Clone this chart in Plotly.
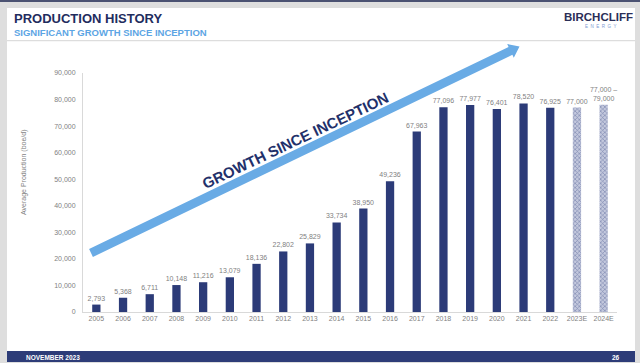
import math
import plotly.graph_objects as go

# ---------------- data ----------------
years = ["2005", "2006", "2007", "2008", "2009", "2010", "2011", "2012", "2013",
         "2014", "2015", "2016", "2017", "2018", "2019", "2020", "2021", "2022"]
production = [2793, 5368, 6711, 10148, 11216, 13079, 18136, 22802, 25829,
              33734, 38950, 49236, 67963, 77096, 77977, 76401, 78520, 76925]
est_years = ["2023E", "2024E"]
est_production = [77000, 78000]
est_labels = ["77,000", "77,000 –<br>79,000"]
y_ticks = [0, 10000, 20000, 30000, 40000, 50000, 60000, 70000, 80000, 90000]

NAVY = "#2C3B78"
DARK = "#1F2D5E"
LIGHTBLUE = "#69ABE5"
GRAY = "#7F7F7F"
FONT = "Liberation Sans, Arial, sans-serif"

W, H = 640, 363
L, R, T, B = 83, 617, 73, 312  # plot area in pixels


def px(x):
    return (x - L) / (R - L)


def py(y):
    return (B - y) / (B - T)


fig = go.Figure()
fig.add_trace(go.Bar(
    x=years, y=production,
    text=[f"{v:,}" for v in production],
    textposition="outside", cliponaxis=False, constraintext="none",
    textfont=dict(size=7, color=GRAY, family=FONT),
    marker=dict(color=NAVY, line=dict(width=0)),
    width=0.31, hoverinfo="skip",
))
fig.add_trace(go.Bar(
    x=est_years, y=est_production,
    text=est_labels,
    textposition="outside", cliponaxis=False, constraintext="none",
    textfont=dict(size=7, color=GRAY, family=FONT),
    marker=dict(color="#A7AECD", line=dict(width=0),
                pattern=dict(shape="x", fgcolor=NAVY, bgcolor="#C3C8DD",
                             size=3, solidity=0.35)),
    width=0.31, hoverinfo="skip",
))

shapes = []
# slide background (gray frame, white slide)
shapes.append(dict(type="rect", xref="paper", yref="paper", layer="below",
                   x0=px(7), x1=px(635), y0=py(351), y1=py(8),
                   fillcolor="white", line=dict(width=0)))
shapes.append(dict(type="rect", xref="paper", yref="paper", layer="below",
                   x0=px(0), x1=px(640), y0=py(2), y1=py(0),
                   fillcolor="#4B5272", line=dict(width=0)))
# header separator
shapes.append(dict(type="line", xref="paper", yref="paper", layer="below",
                   x0=px(7), x1=px(635), y0=py(40.7), y1=py(40.7),
                   line=dict(color="#D6D6D6", width=1)))
# footer bar
shapes.append(dict(type="rect", xref="paper", yref="paper", layer="below",
                   x0=px(7), x1=px(635), y0=py(362), y1=py(351),
                   fillcolor="#2D3C78", line=dict(width=0)))

# growth arrow (decorative)
tail = (91.0, 253.0)
tip = (519.5, 46.5)
dx, dy = tip[0] - tail[0], tip[1] - tail[1]
ln = math.hypot(dx, dy)
ux, uy = dx / ln, dy / ln
nx, ny = -uy, ux
s, w, h = 4.4, 7.6, 10.0
bx, by = tip[0] - h * ux, tip[1] - h * uy
pts = [
    (tail[0] + s * nx, tail[1] + s * ny),
    (bx + s * nx, by + s * ny),
    (bx + w * nx, by + w * ny),
    tip,
    (bx - w * nx, by - w * ny),
    (bx - s * nx, by - s * ny),
    (tail[0] - s * nx, tail[1] - s * ny),
]
path = "M " + " L ".join(f"{px(x):.5f},{py(y):.5f}" for x, y in pts) + " Z"
shapes.append(dict(type="path", xref="paper", yref="paper", path=path,
                   fillcolor=LIGHTBLUE, line=dict(width=0), layer="above"))


def note(text, x, y, size, color, xanchor="center", angle=0):
    return dict(text=text, x=px(x), y=py(y), xref="paper", yref="paper",
                xanchor=xanchor, yanchor="middle", showarrow=False,
                textangle=angle, font=dict(size=size, color=color, family=FONT))


annotations = [
    note("<b>PRODUCTION HISTORY</b>", 12, 18, 13, DARK, "left"),
    note("<b>SIGNIFICANT GROWTH SINCE INCEPTION</b>", 12, 32, 9.5, "#5CA5E4", "left"),
    note("<b>BIRCHCLIFF</b>", 598.5, 16.5, 11.5, "#2B2E57"),
    note("E  N  E  R  G  Y", 600, 26, 4.5, "#7D9BD2"),
    note("<b>NOVEMBER 2023</b>", 24, 357, 6.5, "white", "left"),
    note("<b>26</b>", 616, 357.5, 6.5, "white"),
    note("Average Production (boe/d)", 24, 173, 7, GRAY, angle=-90),
    note("<b>GROWTH SINCE INCEPTION</b>", 295, 140, 15, "#22306A", angle=-25.5),
]

fig.update_layout(
    width=W, height=H,
    margin=dict(l=L, r=W - R, t=T, b=H - B, pad=0, autoexpand=False),
    paper_bgcolor="#DEDEDE", plot_bgcolor="rgba(0,0,0,0)",
    barmode="overlay", showlegend=False,
    shapes=shapes, annotations=annotations,
    font=dict(family=FONT, color=GRAY),
)
fig.update_xaxes(
    categoryorder="array", categoryarray=years + est_years,
    range=[-0.5, 19.5], showline=True, linecolor="#D9D9D9", linewidth=1,
    showgrid=False, ticks="", tickfont=dict(size=7, color=GRAY, family=FONT),
    fixedrange=True,
)
fig.update_yaxes(
    range=[0, 90000], tickvals=y_ticks, tickformat=",d",
    showline=True, linecolor="#D9D9D9", linewidth=1, showgrid=False,
    zeroline=False, ticks="", ticklabelstandoff=5,
    tickfont=dict(size=7, color=GRAY, family=FONT), fixedrange=True,
)

fig.write_html("out.html", config={"displayModeBar": False},
               post_script="document.body.style.margin='0';")
